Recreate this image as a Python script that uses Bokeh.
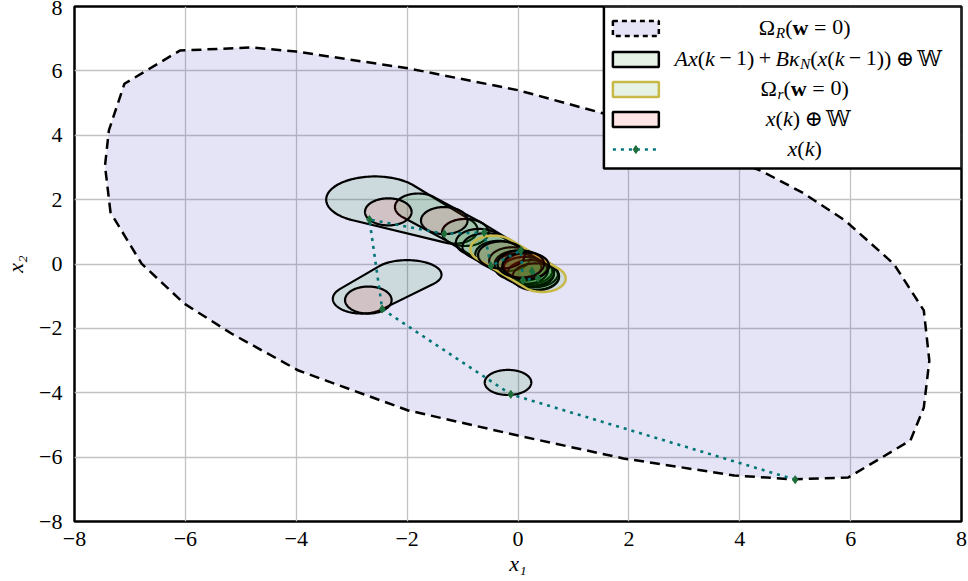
import numpy as np
from bokeh.plotting import figure
from bokeh.models import ColumnDataSource, FixedTicker
from bokeh.core.properties import value
from bokeh.embed import file_html
from bokeh.resources import INLINE

# ---------------- data ----------------
tick_vals = [-8, -6, -4, -2, 0, 2, 4, 6, 8]
tick_labels = ["\u22128", "\u22126", "\u22124", "\u22122", "0", "2", "4", "6", "8"]

# Omega_R (w = 0): polygon vertices
omega_R_x = [-7.35, -7.45, -7.38, -7.10, -6.10, -4.80, -4.00, -1.95, 0.00, 1.60,
             3.00, 4.38, 5.15, 5.90, 6.78, 7.32, 7.42, 7.32, 7.08, 5.96,
             4.97, 3.90, 1.90, 0.00, -1.98, -3.96, -5.17, -6.02, -6.79]
omega_R_y = [1.60, 3.05, 4.15, 5.60, 6.63, 6.73, 6.60, 6.07, 5.40, 4.65,
             3.80, 2.90, 2.20, 1.35, 0.00, -1.44, -3.00, -4.46, -5.48, -6.63,
             -6.69, -6.57, -6.04, -5.33, -4.55, -3.31, -2.16, -1.23, 0.01]

# disturbance set W: ellipse semi-axes
W_rx, W_ry = 0.42, 0.42

# A x(k-1) + B kappa_N(x(k-1)) (+) W : convex hull of two ellipses (a, b)
reach_ax = [-0.18, -2.82, -2.58, -1.80, -0.95, -0.70, -0.58, -0.35, -0.10, 0.00,
            0.00, 0.12, 0.23, 0.32, 0.15]
reach_ay = [-3.68, -1.08, 2.00, 1.77, 0.98, 0.67, 0.54, 0.30, 0.10, 0.00,
            -0.09, -0.20, -0.30, -0.40, -0.06]
reach_arx = [0.42, 0.52, 0.88, 0.42, 0.42, 0.42, 0.42, 0.42, 0.42, 0.42,
             0.42, 0.42, 0.42, 0.42, 0.40]
reach_ary = [0.39, 0.46, 0.72, 0.42, 0.42, 0.42, 0.42, 0.42, 0.42, 0.42,
             0.42, 0.42, 0.42, 0.42, 0.40]
reach_bx = [-0.18, -2.00, -1.15, -0.95, -0.20, 0.10, 0.20, 0.30, 0.32, 0.23,
            0.00, 0.12, 0.23, 0.32, 0.15]
reach_by = [-3.68, -0.33, 1.06, 0.98, 0.20, -0.10, -0.20, -0.30, -0.38, -0.25,
            -0.09, -0.20, -0.30, -0.40, -0.06]
reach_brx = [0.42, 0.62, 0.42, 0.42, 0.42, 0.42, 0.42, 0.42, 0.42, 0.42,
             0.42, 0.42, 0.42, 0.42, 0.40]
reach_bry = [0.39, 0.45, 0.43, 0.42, 0.42, 0.42, 0.42, 0.42, 0.42, 0.42,
             0.42, 0.42, 0.42, 0.42, 0.40]

# Omega_r (w = 0): hull of two copies of W
omega_r_cx = [-0.44, 0.44]
omega_r_cy = [0.46, -0.45]

# x(k) (+) W : centres
xw_cx = [-2.70, -2.34, -1.33, -0.30, 0.05, 0.14]
xw_cy = [-1.12, 1.62, 1.35, 0.28, 0.00, -0.06]

# closed-loop trajectory x(k)
traj_x = [5.00, -0.13, -2.45, -2.68, -1.33, -0.61, -0.49, 0.05, 0.09, 0.36, 0.25]
traj_y = [-6.70, -4.05, -1.40, 1.38, 0.94, 0.98, -0.06, 0.42, -0.50, -0.44, -0.22]

# ---------------- colours ----------------
BLUE = "#5a5ac8"
GREEN = "#008000"
RED = "#ff0000"
YELLOW = "#c8b848"
TEAL = "#007575"
MARK = "#1e6e3a"
FONT = "'Liberation Serif', 'DejaVu Serif', 'DejaVu Sans', serif"


def ellipse(cx, cy, rx, ry, n=160):
    t = np.linspace(0.0, 2.0 * np.pi, n, endpoint=False)
    return cx + rx * np.cos(t), cy + ry * np.sin(t)


def convex_hull(xs, ys):
    pts = sorted(set(zip(np.round(xs, 6), np.round(ys, 6))))

    def cross(o, a, b):
        return (a[0] - o[0]) * (b[1] - o[1]) - (a[1] - o[1]) * (b[0] - o[0])

    lower, upper = [], []
    for q in pts:
        while len(lower) >= 2 and cross(lower[-2], lower[-1], q) <= 0:
            lower.pop()
        lower.append(q)
    for q in reversed(pts):
        while len(upper) >= 2 and cross(upper[-2], upper[-1], q) <= 0:
            upper.pop()
        upper.append(q)
    h = lower[:-1] + upper[:-1]
    return [float(q[0]) for q in h], [float(q[1]) for q in h]


def hull_of_ellipses(specs):
    xs, ys = [], []
    for cx, cy, rx, ry in specs:
        ex, ey = ellipse(cx, cy, rx, ry)
        xs.extend(ex)
        ys.extend(ey)
    return convex_hull(np.array(xs), np.array(ys))


p = figure(width=968, height=581, x_range=(-8, 8), y_range=(-8, 8),
           output_backend="svg", toolbar_location=None,
           min_border_left=73, min_border_right=7, min_border_top=6,
           min_border_bottom=60)
p.background_fill_color = "white"
p.border_fill_color = "white"
p.outline_line_color = "black"
p.outline_line_width = 2.5
p.outline_line_alpha = 1.0

for ax in (p.xaxis, p.yaxis):
    ax.ticker = FixedTicker(ticks=tick_vals)
    ax.major_label_overrides = {v: s for v, s in zip(tick_vals, tick_labels)}
    ax.major_label_text_font = FONT
    ax.major_label_text_font_size = "22px"
    ax.major_label_text_color = "black"
    ax.major_tick_line_color = None
    ax.minor_tick_line_color = None
    ax.axis_line_color = None
    ax.axis_label_text_font = FONT
    ax.axis_label_text_font_size = "22px"
    ax.axis_label_text_font_style = "italic"
    ax.axis_label_text_color = "black"
p.xaxis.axis_label = "x\u2081"
p.yaxis.axis_label = "x\u2082"
p.xaxis.major_label_standoff = 4
p.xaxis.axis_label_standoff = 2
p.yaxis.major_label_standoff = 6
p.yaxis.axis_label_standoff = 8

p.grid.grid_line_color = "#c2c2c2"
p.grid.grid_line_width = 1.3

# Omega_R
p.patch(omega_R_x, omega_R_y, fill_color=BLUE, fill_alpha=0.16,
        line_color="black", line_width=2.5, line_dash="10 6")

# reachable sets
rx_list, ry_list = [], []
for i in range(len(reach_ax)):
    hx, hy = hull_of_ellipses([
        (reach_ax[i], reach_ay[i], reach_arx[i], reach_ary[i]),
        (reach_bx[i], reach_by[i], reach_brx[i], reach_bry[i]),
    ])
    rx_list.append(hx)
    ry_list.append(hy)
p.patches(rx_list, ry_list, fill_color=GREEN, fill_alpha=0.1,
          line_color="black", line_width=2.2)

# Omega_r
ox, oy = hull_of_ellipses([(cx, cy, W_rx, W_ry) for cx, cy in zip(omega_r_cx, omega_r_cy)])
p.patch(ox, oy, fill_color=GREEN, fill_alpha=0.1, line_color=YELLOW, line_width=2.5)

# x(k) (+) W
wx_list, wy_list = [], []
for cx, cy in zip(xw_cx, xw_cy):
    ex, ey = ellipse(cx, cy, W_rx, W_ry)
    wx_list.append(list(ex))
    wy_list.append(list(ey))
p.patches(wx_list, wy_list, fill_color=RED, fill_alpha=0.1,
          line_color="black", line_width=2.2)

# trajectory
p.line(traj_x, traj_y, line_color=TEAL, line_width=2.6, line_dash="3 5")
p.scatter(traj_x, traj_y, marker="diamond", size=8, color=MARK)

# ---------------- legend ----------------
FL, FR, FT, FB = 73.0, 961.0, 6.0, 521.0


def dxp(px):
    return -8.0 + (px - FL) * 16.0 / (FR - FL)


def dyp(py):
    return 8.0 - (py - FT) * 16.0 / (FB - FT)


p.quad(left=[dxp(603)], right=[dxp(961)], top=[dyp(6)], bottom=[dyp(168)],
       fill_color="white", fill_alpha=1.0, line_color="black", line_width=2.5)

rows = [28, 59, 89, 119, 149]
sw_l, sw_r = dxp(612), dxp(658)


def sw(row):
    return dict(left=[sw_l], right=[sw_r], top=[dyp(row - 7.5)], bottom=[dyp(row + 7.5)])


p.quad(**sw(rows[0]), fill_color=BLUE, fill_alpha=0.16, line_color="black",
       line_width=2.5, line_dash="5 4")
p.quad(**sw(rows[1]), fill_color=GREEN, fill_alpha=0.1, line_color="black", line_width=2.5)
p.quad(**sw(rows[2]), fill_color=GREEN, fill_alpha=0.1, line_color=YELLOW, line_width=2.5)
p.quad(**sw(rows[3]), fill_color=RED, fill_alpha=0.1, line_color="black", line_width=2.5)
p.line([sw_l, sw_r], [dyp(rows[4])] * 2, line_color=TEAL, line_width=2.6, line_dash="3 5")
p.scatter([dxp(635)], [dyp(rows[4])], marker="diamond", size=8, color=MARK)

# math-style labels set piece by piece
WID = {
    ("normal", "\u03a9"): 0.768, ("normal", "("): 0.333, ("normal", ")"): 0.333,
    ("normal", "="): 0.564, ("normal", "0"): 0.5, ("normal", "1"): 0.5,
    ("normal", "+"): 0.564, ("normal", "\u2212"): 0.564, ("normal", "\u2295"): 0.78,
    ("normal", "\U0001D54E"): 0.80,
    ("italic", "R"): 0.611, ("italic", "r"): 0.389, ("italic", "A"): 0.611,
    ("italic", "x"): 0.444, ("italic", "k"): 0.444, ("italic", "B"): 0.611,
    ("italic", "\u03ba"): 0.50, ("italic", "N"): 0.667, ("bold", "w"): 0.722,
}
FS = 22.0
n, i, b = "normal", "italic", "bold"
S = 0.20   # medium math space
T = 0.26   # thick math space
labels = [
    [("\u03a9", n), ("R", i, "sub"), ("(", n), ("w", b), T, ("=", n), T, ("0", n), (")", n)],
    [("A", i), ("x", i), ("(", n), ("k", i), S, ("\u2212", n), S, ("1", n), (")", n), S,
     ("+", n), S, ("B", i), ("\u03ba", i), ("N", i, "sub"), ("(", n), ("x", i), ("(", n),
     ("k", i), S, ("\u2212", n), S, ("1", n), (")", n), (")", n), S, ("\u2295", n), S,
     ("\U0001D54E", n)],
    [("\u03a9", n), ("r", i, "sub"), ("(", n), ("w", b), T, ("=", n), T, ("0", n), (")", n)],
    [("x", i), ("(", n), ("k", i), (")", n), S, ("\u2295", n), S, ("\U0001D54E", n)],
    [("x", i), ("(", n), ("k", i), (")", n)],
]

tx, ty, tt, txo, tyo, tst, tsz = [], [], [], [], [], [], []
text_cx = dxp(804)
for row, pieces in zip(rows, labels):
    laid = []
    pos = 0.0
    for pc in pieces:
        if isinstance(pc, float):
            pos += pc * FS
            continue
        ch, st = pc[0], pc[1]
        sub = len(pc) > 2
        size = FS * 0.7 if sub else FS
        laid.append((ch, st, size, pos, 5.0 if sub else 0.0))
        pos += WID[(st, ch)] * size
    total = pos
    for ch, st, size, x0, yshift in laid:
        tx.append(text_cx)
        ty.append(dyp(row))
        tt.append(ch)
        txo.append(x0 - total / 2.0)
        tyo.append(-1.5 + yshift)
        tst.append(st)
        tsz.append(f"{size:.1f}px")

src = ColumnDataSource(dict(x=tx, y=ty, text=tt, xo=txo, yo=tyo, st=tst, sz=tsz))
p.text(x="x", y="y", text="text", x_offset="xo", y_offset="yo", source=src,
       text_font=value(FONT), text_font_style="st", text_font_size="sz",
       text_align="left", text_baseline="alphabetic", text_color="black")

open("out.html", "w").write(file_html(p, INLINE))
